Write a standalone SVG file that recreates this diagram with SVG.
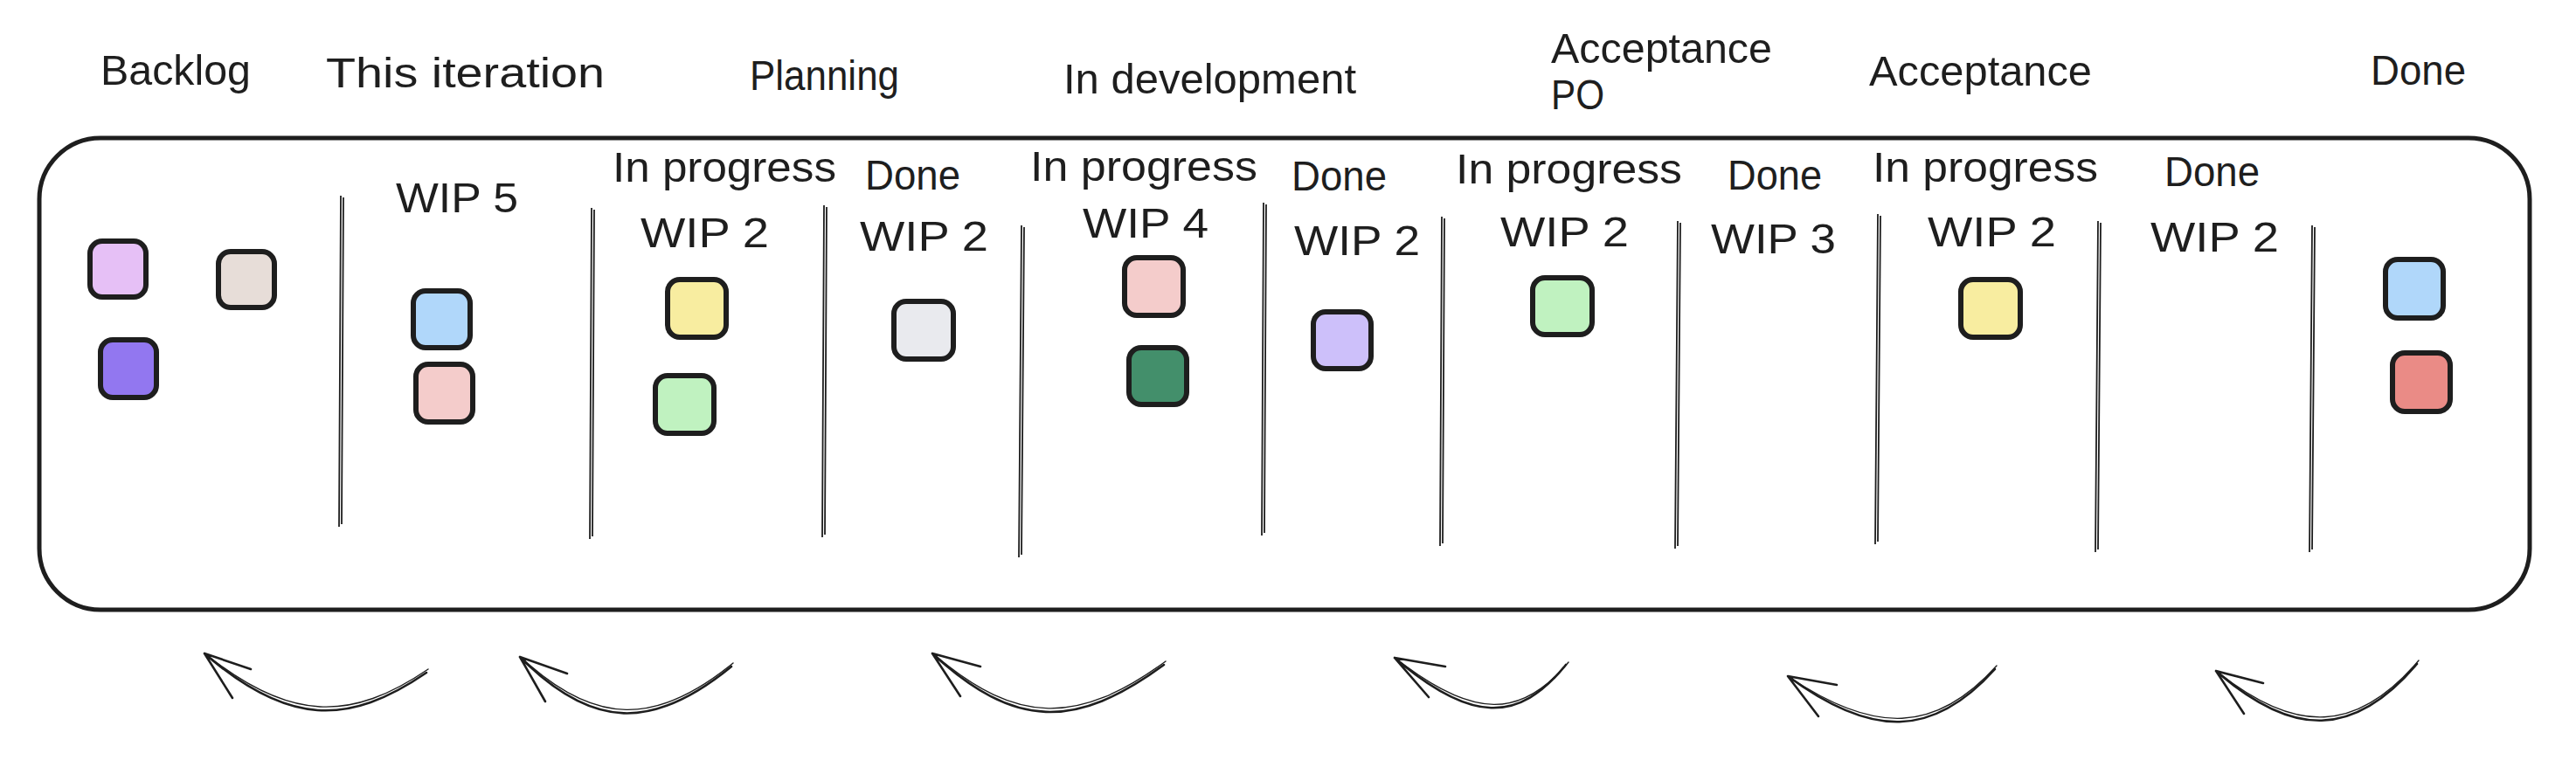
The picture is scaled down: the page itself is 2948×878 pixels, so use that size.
<svg xmlns="http://www.w3.org/2000/svg" width="2948" height="878" viewBox="0 0 2948 878">
<style>
.t{font-family:"Liberation Sans",Arial,sans-serif;font-size:48px;fill:#1e1e1e}
.box{fill:none;stroke:#1e1e1e;stroke-width:5}
.dv{fill:none;stroke:#1e1e1e;stroke-width:1.8}
.card{stroke:#1e1e1e;stroke-width:6;stroke-linejoin:round}
.arr{fill:none;stroke:#1e1e1e;stroke-width:2.6;stroke-linecap:round}
.arr2{fill:none;stroke:#1e1e1e;stroke-width:1.4;stroke-linecap:round}
</style>
<rect width="2948" height="878" fill="#ffffff"/>
<g id="board">
<rect class="box" x="45" y="158" width="2850" height="540" rx="70" ry="70"/>
</g>
<g id="dividers">
<path class="dv" d="M390 224 L388 603 M393 226 L391 600"/>
<path class="dv" d="M677 238 L675 617 M680 240 L678 614"/>
<path class="dv" d="M943 235 L941 615 M946 237 L944 612"/>
<path class="dv" d="M1169 258 L1166 638 M1172 260 L1169 635"/>
<path class="dv" d="M1446 232 L1444 613 M1449 234 L1447 610"/>
<path class="dv" d="M1650 248 L1648 625 M1653 250 L1651 622"/>
<path class="dv" d="M1920 253 L1917 628 M1923 255 L1920 625"/>
<path class="dv" d="M2149 245 L2146 623 M2152 247 L2149 620"/>
<path class="dv" d="M2401 253 L2398 632 M2404 255 L2401 629"/>
<path class="dv" d="M2646 258 L2643 632 M2649 260 L2646 629"/>
</g>
<g id="headers">
<text class="t" x="115" y="97" textLength="172" lengthAdjust="spacingAndGlyphs">Backlog</text>
<text class="t" x="373" y="100" textLength="319" lengthAdjust="spacingAndGlyphs">This iteration</text>
<text class="t" x="858" y="103" textLength="171" lengthAdjust="spacingAndGlyphs">Planning</text>
<text class="t" x="1217" y="107" textLength="335" lengthAdjust="spacingAndGlyphs">In development</text>
<text class="t" x="1775" y="72" textLength="253" lengthAdjust="spacingAndGlyphs">Acceptance</text>
<text class="t" x="1775" y="125" textLength="61" lengthAdjust="spacingAndGlyphs">PO</text>
<text class="t" x="2139" y="98" textLength="255" lengthAdjust="spacingAndGlyphs">Acceptance</text>
<text class="t" x="2713" y="97" textLength="109" lengthAdjust="spacingAndGlyphs">Done</text>
</g>
<g id="sublabels">
<text class="t" x="701" y="208" textLength="256" lengthAdjust="spacingAndGlyphs">In progress</text>
<text class="t" x="990" y="217" textLength="109" lengthAdjust="spacingAndGlyphs">Done</text>
<text class="t" x="1179" y="207" textLength="260" lengthAdjust="spacingAndGlyphs">In progress</text>
<text class="t" x="1478" y="218" textLength="109" lengthAdjust="spacingAndGlyphs">Done</text>
<text class="t" x="1666" y="210" textLength="259" lengthAdjust="spacingAndGlyphs">In progress</text>
<text class="t" x="1977" y="217" textLength="108" lengthAdjust="spacingAndGlyphs">Done</text>
<text class="t" x="2143" y="208" textLength="258" lengthAdjust="spacingAndGlyphs">In progress</text>
<text class="t" x="2477" y="213" textLength="109" lengthAdjust="spacingAndGlyphs">Done</text>
</g>
<g id="wip">
<text class="t" x="453" y="243" textLength="140" lengthAdjust="spacingAndGlyphs">WIP 5</text>
<text class="t" x="733" y="283" textLength="147" lengthAdjust="spacingAndGlyphs">WIP 2</text>
<text class="t" x="984" y="287" textLength="147" lengthAdjust="spacingAndGlyphs">WIP 2</text>
<text class="t" x="1239" y="272" textLength="144" lengthAdjust="spacingAndGlyphs">WIP 4</text>
<text class="t" x="1481" y="292" textLength="144" lengthAdjust="spacingAndGlyphs">WIP 2</text>
<text class="t" x="1717" y="282" textLength="147" lengthAdjust="spacingAndGlyphs">WIP 2</text>
<text class="t" x="1958" y="290" textLength="143" lengthAdjust="spacingAndGlyphs">WIP 3</text>
<text class="t" x="2206" y="282" textLength="147" lengthAdjust="spacingAndGlyphs">WIP 2</text>
<text class="t" x="2461" y="288" textLength="147" lengthAdjust="spacingAndGlyphs">WIP 2</text>
</g>
<g id="card-lilac"><rect class="card" x="103" y="276" width="64" height="64" rx="14" fill="#e6c0f6"/></g>
<g id="card-beige"><rect class="card" x="250" y="288" width="64" height="64" rx="14" fill="#e7ddd8"/></g>
<g id="card-purple"><rect class="card" x="115" y="389" width="64" height="66" rx="14" fill="#9277f0"/></g>
<g id="card-blue1"><rect class="card" x="473" y="333" width="65" height="65" rx="14" fill="#b0d7fa"/></g>
<g id="card-pink1"><rect class="card" x="476" y="417" width="65" height="66" rx="14" fill="#f4cccb"/></g>
<g id="card-yellow1"><rect class="card" x="764" y="320" width="67" height="66" rx="14" fill="#f8eda0"/></g>
<g id="card-green1"><rect class="card" x="750" y="430" width="67" height="66" rx="14" fill="#c0f2c0"/></g>
<g id="card-gray"><rect class="card" x="1023" y="345" width="68" height="66" rx="14" fill="#e9eaee"/></g>
<g id="card-pink2"><rect class="card" x="1287" y="295" width="67" height="66" rx="14" fill="#f4cccb"/></g>
<g id="card-darkgreen"><rect class="card" x="1292" y="398" width="66" height="65" rx="14" fill="#438f6b"/></g>
<g id="card-violet"><rect class="card" x="1503" y="357" width="66" height="65" rx="14" fill="#cdc0fa"/></g>
<g id="card-green2"><rect class="card" x="1754" y="318" width="68" height="65" rx="14" fill="#c0f2c0"/></g>
<g id="card-yellow2"><rect class="card" x="2244" y="320" width="68" height="66" rx="14" fill="#f8eda0"/></g>
<g id="card-blue2"><rect class="card" x="2730" y="297" width="66" height="67" rx="14" fill="#b0d7fa"/></g>
<g id="card-red"><rect class="card" x="2738" y="404" width="66" height="67" rx="14" fill="#ea8b86"/></g>
<g id="connectors">
<path class="arr" d="M488 770 C399 831 329 831 234 748 M234 748 L287 766 M234 748 L266 799"/>
<path class="arr2" d="M490 766 C402 826 332 826 237 750"/>
<path class="arr" d="M837 763 C748 836 678 836 595 752 M595 752 L649 771 M595 752 L624 803"/>
<path class="arr2" d="M839 759 C751 831 681 831 598 754"/>
<path class="arr" d="M1332 761 C1231 835 1161 835 1067 748 M1067 748 L1122 763 M1067 748 L1099 797"/>
<path class="arr2" d="M1334 757 C1234 830 1164 830 1070 750"/>
<path class="arr" d="M1792 761 C1738 828 1683 828 1596 753 M1596 753 L1654 763 M1596 753 L1635 798"/>
<path class="arr2" d="M1795 758 C1741 823 1686 823 1599 755"/>
<path class="arr" d="M2283 766 C2212 845 2142 845 2046 774 M2046 774 L2102 784 M2046 774 L2081 820"/>
<path class="arr2" d="M2285 762 C2215 840 2145 840 2049 776"/>
<path class="arr" d="M2766 760 C2694 845 2624 845 2536 768 M2536 768 L2590 782 M2536 768 L2568 817"/>
<path class="arr2" d="M2768 756 C2697 840 2627 840 2539 770"/>
</g>
</svg>
